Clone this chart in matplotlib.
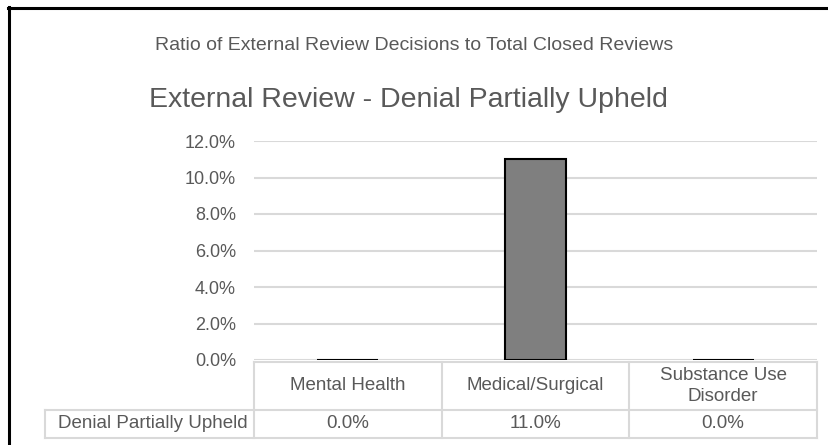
import matplotlib
matplotlib.use("Agg")
import matplotlib.pyplot as plt
from matplotlib.lines import Line2D
from matplotlib.ticker import FuncFormatter

plt.rcParams.update({"font.family": ["Liberation Sans", "DejaVu Sans"]})

SUPTITLE = "Ratio of External Review Decisions to Total Closed Reviews"
TITLE = "External Review - Denial Partially Upheld"
categories = ["Mental Health", "Medical/Surgical", "Substance Use\nDisorder"]
series_name = "Denial Partially Upheld"
values = [0.0, 11.0, 0.0]
yticks = [0, 2, 4, 6, 8, 10, 12]

TXT = "#595959"
GRID = "#d9d9d9"
W, H = 829, 445

fig = plt.figure(figsize=(W / 100, H / 100), dpi=100)


def fx(px):
    return px / W


def fy(py):
    return 1 - py / H


L, R, T, B = 254, 817, 141, 360
ax = fig.add_axes([fx(L), fy(B), fx(R - L), (B - T) / H])
x = range(len(categories))
ax.bar(x, values, width=0.325, color="#7f7f7f", edgecolor="black", linewidth=1.5, zorder=3)
ax.set_xlim(-0.5, len(categories) - 0.5)
ax.set_ylim(0, 12)
ax.set_yticks(yticks)
ax.yaxis.set_major_formatter(FuncFormatter(lambda v, _: f"{v:.1f}%"))
ax.tick_params(axis="y", length=0, pad=13, labelsize=13, labelcolor=TXT)
ax.set_xticks([])
ax.grid(axis="y", color=GRID, lw=1.5, zorder=0)
for s in ax.spines.values():
    s.set_visible(False)

# data table below the axis
tr = ax.get_xaxis_transform()


def ay(py):
    return (B - py) / (B - T)


def px2x(px):
    return (px - L) / (R - L) * len(categories) - 0.5


top, mid, bot = ay(362), ay(410), ay(438)
xl, xr = px2x(45), len(categories) - 0.5
kw = dict(transform=tr, color=GRID, lw=1.5, clip_on=False)
ax.add_line(Line2D([-0.5, xr], [top, top], **kw))
ax.add_line(Line2D([xl, xr], [mid, mid], **kw))
ax.add_line(Line2D([xl, xr], [bot, bot], **kw))
ax.add_line(Line2D([xl, xl], [mid, bot], **kw))
for i in range(len(categories) + 1):
    ax.add_line(Line2D([i - 0.5, i - 0.5], [top, bot], **kw))

tkw = dict(transform=tr, ha="center", va="center", color=TXT, fontsize=13.5, clip_on=False)
for i, (c, v) in enumerate(zip(categories, values)):
    ax.text(i, (top + mid) / 2, c, linespacing=1.3, **tkw)
    ax.text(i, (mid + bot) / 2, f"{v:.1f}%", **tkw)
ax.text(px2x(248), (mid + bot) / 2, series_name, **{**tkw, "ha": "right"})

# titles
fig.text(fx(414), fy(45), SUPTITLE, ha="center", va="center", fontsize=14, color=TXT)
fig.text(fx(408), fy(100), TITLE, ha="center", va="center", fontsize=20.5, color=TXT)

# frame edges visible in the reference (top and left only)
fig.add_artist(Line2D([fx(8), 1], [fy(8), fy(8)], transform=fig.transFigure, color="black", lw=2.2))
fig.add_artist(Line2D([fx(9.5), fx(9.5)], [fy(7), 0], transform=fig.transFigure, color="black", lw=2.2))

fig.savefig("out.png", dpi=100)
